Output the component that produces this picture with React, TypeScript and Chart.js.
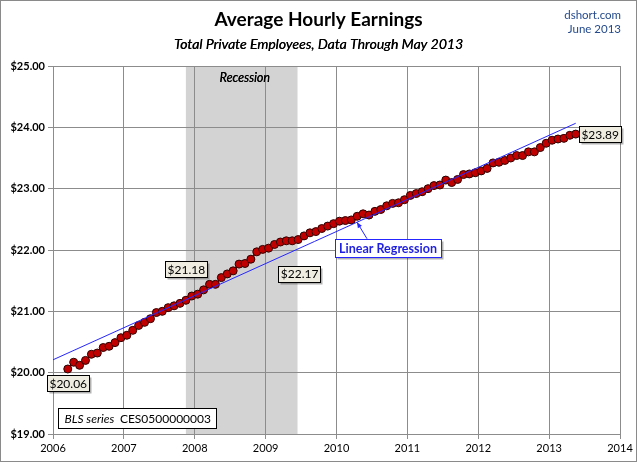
import React, { useEffect, useRef } from "react";
import { Chart, registerables } from "chart.js";

Chart.register(...registerables);

// ---------- data ----------
const firstYear = 2006;
const firstMonth = 3; // March 2006
const earnings = [
  20.06, 20.17, 20.12, 20.2, 20.3, 20.32, 20.41, 20.43, 20.49, 20.57,
  20.61, 20.69, 20.77, 20.82, 20.88, 20.98, 21.0, 21.06, 21.09, 21.13,
  21.18, 21.25, 21.28, 21.35, 21.44, 21.44, 21.55, 21.61, 21.66, 21.77,
  21.78, 21.85, 21.97, 22.01, 22.03, 22.09, 22.13, 22.15, 22.15, 22.17,
  22.23, 22.28, 22.3, 22.35, 22.39, 22.43, 22.47, 22.48, 22.49, 22.55,
  22.59, 22.57, 22.63, 22.66, 22.72, 22.76, 22.77, 22.82, 22.89, 22.92,
  22.95, 23.0, 23.05, 23.06, 23.14, 23.1, 23.15, 23.23, 23.24, 23.26,
  23.29, 23.33, 23.42, 23.43, 23.46, 23.5, 23.54, 23.54, 23.6, 23.6,
  23.67, 23.74, 23.79, 23.81, 23.82, 23.87, 23.89,
];
const yearTicks = [2006, 2007, 2008, 2009, 2010, 2011, 2012, 2013, 2014];
const yMin = 19;
const yMax = 25;
const yStep = 1;
const recessionStartYear = 2007.875;
const recessionEndYear = 2009.45;
const calloutIndices = [0, 20, 39, 86];
const titleText = "Average Hourly Earnings";
const subtitleText = "Total Private Employees, Data Through May 2013";
const sourceLines = ["dshort.com", "June 2013"];
const seriesNote = ["BLS series", "CES0500000003"];
const regressionLabel = "Linear Regression";
const recessionLabel = "Recession";

const monthX = (i: number) => firstYear + (firstMonth - 1 + i + 0.5) / 12;

export default function App() {
  const ref = useRef<HTMLCanvasElement | null>(null);

  useEffect(() => {
    document.body.style.margin = "0";
    const canvas = ref.current;
    if (!canvas) return;

    const pts = earnings.map((v, i) => ({ x: monthX(i), y: v }));
    // least squares regression
    const n = pts.length;
    const mx = pts.reduce((s, p) => s + p.x, 0) / n;
    const my = pts.reduce((s, p) => s + p.y, 0) / n;
    let sxy = 0, sxx = 0;
    pts.forEach((p) => { sxy += (p.x - mx) * (p.y - my); sxx += (p.x - mx) * (p.x - mx); });
    const slope = sxy / sxx;
    const icpt = my - slope * mx;
    const regAt = (x: number) => icpt + slope * x;
    const regPts = [
      { x: yearTicks[0], y: regAt(yearTicks[0]) },
      { x: pts[n - 1].x, y: regAt(pts[n - 1].x) },
    ];

    const drawBox = (ctx: CanvasRenderingContext2D, cx: number, cy: number, w: number, h: number, fill: string, stroke: string, shadow: boolean) => {
      const x = Math.round(cx - w / 2) + 0.5;
      const y = Math.round(cy - h / 2) + 0.5;
      if (shadow) {
        ctx.fillStyle = "rgba(0,0,0,0.3)";
        ctx.fillRect(x + 2, y + 2, w, h);
      }
      ctx.fillStyle = fill;
      ctx.fillRect(x, y, w, h);
      ctx.strokeStyle = stroke;
      ctx.lineWidth = 1;
      ctx.strokeRect(x, y, w, h);
    };

    const decor = {
      id: "decor",
      beforeDraw(chart: any) {
        const { ctx, chartArea, scales } = chart;
        ctx.save();
        ctx.fillStyle = "#ffffff";
        ctx.fillRect(0, 0, chart.width, chart.height);
        const x0 = scales.x.getPixelForValue(recessionStartYear);
        const x1 = scales.x.getPixelForValue(recessionEndYear);
        ctx.fillStyle = "#d3d3d3";
        ctx.fillRect(x0, chartArea.top, x1 - x0, chartArea.bottom - chartArea.top);
        ctx.strokeStyle = "#8a8a8a";
        ctx.lineWidth = 1;
        ctx.strokeRect(0.5, 0.5, chart.width - 1, chart.height - 1);
        ctx.restore();
      },
      afterDraw(chart: any) {
        const { ctx, chartArea, scales } = chart;
        ctx.save();
        // titles
        ctx.fillStyle = "#000";
        ctx.textAlign = "center";
        ctx.textBaseline = "alphabetic";
        ctx.font = "bold 19px Lato";
        ctx.fillText(titleText, chart.width / 2, 26);
        ctx.font = "italic 14px Lato";
        ctx.fillText(subtitleText, chart.width / 2, 49);
        ctx.fillText(subtitleText, chart.width / 2 + 0.3, 49);
        ctx.textAlign = "right";
        ctx.fillStyle = "#244a8c";
        ctx.font = "11.5px Lato";
        ctx.fillText(sourceLines[0], 621, 19);
        ctx.fillText(sourceLines[1], 621, 33);

        // recession label
        const rx0 = scales.x.getPixelForValue(recessionStartYear);
        const rx1 = scales.x.getPixelForValue(recessionEndYear);
        ctx.textAlign = "center";
        ctx.fillStyle = "#000";
        ctx.font = "italic 12.5px Lato";
        ctx.fillText(recessionLabel, (rx0 + rx1) / 2 + 3, chartArea.top + 16);
        ctx.fillText(recessionLabel, (rx0 + rx1) / 2 + 3.3, chartArea.top + 16);

        // value callouts
        const meta = chart.getDatasetMeta(1);
        const offsets = [[0, 14], [0, -31], [1, 34], [24, 0]];
        ctx.font = "12px Lato";
        calloutIndices.forEach((idx, k) => {
          const el = meta.data[idx];
          const txt = "$" + earnings[idx].toFixed(2);
          const w = Math.round(ctx.measureText(txt).width + 4);
          const cx = el.x + offsets[k][0];
          const cy = el.y + offsets[k][1];
          drawBox(ctx, cx, cy, w, 16, "#efede2", "#000", true);
          ctx.fillStyle = "#000";
          ctx.textAlign = "center";
          ctx.textBaseline = "middle";
          ctx.fillText(txt, cx + 0.5, cy + 1);
        });

        // regression callout
        const tipX = 357;
        const tipVal = scales.x.getValueForPixel(tipX);
        const tipY = scales.y.getPixelForValue(regAt(tipVal));
        const bcx = tipX + 31;
        const bcy = tipY + 25.5;
        ctx.font = "bold 12.5px Lato";
        const rw = Math.round(ctx.measureText(regressionLabel).width + 8);
        drawBox(ctx, bcx, bcy, rw, 18, "#ffffff", "#2525ff", true);
        ctx.fillStyle = "#1f1fe0";
        ctx.textAlign = "center";
        ctx.textBaseline = "middle";
        ctx.fillText(regressionLabel, bcx, bcy + 1);
        // arrow
        const tailX = tipX + 10, tailY = bcy - 9;
        ctx.strokeStyle = "#2525ff";
        ctx.lineWidth = 1;
        ctx.beginPath();
        ctx.moveTo(tailX, tailY);
        ctx.lineTo(tipX, tipY);
        ctx.stroke();
        const ang = Math.atan2(tipY - tailY, tipX - tailX);
        ctx.fillStyle = "#2525ff";
        ctx.beginPath();
        ctx.moveTo(tipX, tipY);
        ctx.lineTo(tipX - 6 * Math.cos(ang - 0.4), tipY - 6 * Math.sin(ang - 0.4));
        ctx.lineTo(tipX - 6 * Math.cos(ang + 0.4), tipY - 6 * Math.sin(ang + 0.4));
        ctx.closePath();
        ctx.fill();

        // series note
        ctx.font = "italic 12px Lato";
        const wA = ctx.measureText(seriesNote[0] + "  ").width;
        ctx.font = "12px Lato";
        const wB = ctx.measureText(seriesNote[1]).width;
        const bw = Math.round(wA + wB + 12);
        const bx = chartArea.left + 5.5, by = chartArea.bottom - 26 + 0.5;
        ctx.fillStyle = "#fff";
        ctx.fillRect(bx, by, bw, 20);
        ctx.strokeStyle = "#000";
        ctx.strokeRect(bx, by, bw, 20);
        ctx.fillStyle = "#000";
        ctx.textAlign = "left";
        ctx.textBaseline = "middle";
        ctx.font = "italic 12px Lato";
        ctx.fillText(seriesNote[0], bx + 6, by + 10.5);
        ctx.font = "12px Lato";
        ctx.fillText(seriesNote[1], bx + 6 + wA, by + 10.5);
        ctx.restore();
      },
    };

    const gridColor = "#8c8c8c";
    const chart = new Chart(canvas, {
      type: "line",
      data: {
        datasets: [
          {
            label: "Linear Regression",
            data: regPts,
            borderColor: "#2525ff",
            borderWidth: 1,
            pointRadius: 0,
            order: 0,
          },
          {
            label: "Average Hourly Earnings",
            data: pts,
            borderColor: "#7a0000",
            borderWidth: 1.5,
            pointRadius: 4,
            pointBackgroundColor: "#c00000",
            pointBorderColor: "#300000",
            pointBorderWidth: 1,
            order: 1,
          },
        ],
      },
      options: {
        animation: false,
        responsive: false,
        layout: { padding: { left: 0, right: 17, top: 66, bottom: 0 } },
        plugins: { legend: { display: false }, tooltip: { enabled: false }, title: { display: false } },
        scales: {
          x: {
            type: "linear",
            min: yearTicks[0],
            max: yearTicks[yearTicks.length - 1],
            afterBuildTicks: (s: any) => { s.ticks = yearTicks.map((v) => ({ value: v })); },
            ticks: { callback: (v: any) => String(v), font: { family: "Lato", size: 11 }, color: "#000", padding: 3, maxRotation: 0, autoSkip: false },
            grid: { color: gridColor, lineWidth: 1, tickLength: 5 },
            border: { color: gridColor },
            afterFit: (s: any) => { s.height = 28; },
          },
          y: {
            min: yMin,
            max: yMax,
            ticks: { stepSize: yStep, callback: (v: any) => "$" + Number(v).toFixed(2), font: { family: "Lato", size: 11, weight: "bold" }, color: "#000", padding: 3 },
            grid: { color: gridColor, lineWidth: 1, tickLength: 5 },
            border: { color: gridColor },
            afterFit: (s: any) => { s.width = 53; },
          },
        },
      } as any,
      plugins: [decor],
    });
    return () => chart.destroy();
  }, []);

  return <canvas ref={ref} width={637} height={462} style={{ display: "block" }} />;
}
